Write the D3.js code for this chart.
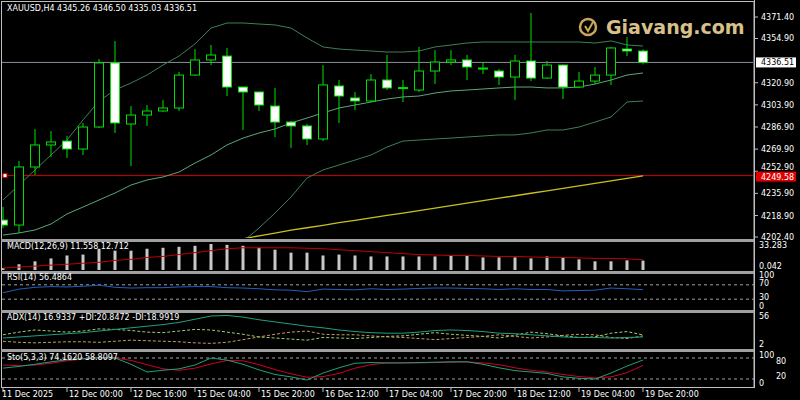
<!DOCTYPE html>
<html><head><meta charset="utf-8">
<script src="https://cdn.jsdelivr.net/npm/d3@7"></script>
<style>body{margin:0;background:#000}svg{display:block}text{font-family:"DejaVu Sans",sans-serif;font-size:8px;fill:#fff}</style>
</head><body><div id="chart"></div>
<script>
var width = 800, height = 400;

// candles: [open, high, low, close]
var ohlc = [
 [4215.4,4225.4,4209.3,4211.6],[4211.6,4260.8,4205.5,4256.2],[4256.2,4285.4,4250.0,4273.1],[4273.1,4283.8,4263.8,4275.4],
 [4276.1,4280.0,4263.1,4270.0],[4270.0,4290.0,4265.4,4286.9],[4286.9,4339.1,4286.1,4336.1],[4336.1,4353.0,4282.3,4290.0],
 [4289.2,4303.0,4256.9,4296.1],[4296.1,4303.8,4287.7,4299.2],[4299.2,4307.6,4298.5,4301.5],[4301.5,4329.2,4299.2,4326.8],
 [4326.8,4346.8,4326.1,4338.4],[4338.4,4349.9,4334.5,4342.2],[4341.4,4347.6,4310.7,4317.6],[4317.6,4317.9,4284.6,4313.8],
 [4313.8,4314.0,4299.2,4303.8],[4303.0,4316.9,4279.2,4290.7],[4290.7,4291.5,4270.8,4287.7],[4287.7,4289.2,4273.1,4277.7],
 [4277.7,4334.5,4276.1,4319.2],[4318.4,4323.0,4290.0,4310.7],[4309.2,4313.8,4300.0,4306.9],[4306.9,4327.6,4306.1,4323.0],
 [4323.0,4342.2,4315.3,4316.9],[4316.9,4323.0,4306.1,4317.2],[4315.3,4348.4,4313.8,4329.9],[4329.9,4346.0,4319.9,4336.8],
 [4336.8,4346.0,4334.5,4338.4],[4338.4,4342.2,4323.0,4333.0],[4332.2,4336.8,4327.6,4331.5],[4329.9,4331.5,4319.2,4325.3],
 [4325.3,4342.2,4307.6,4337.6],[4337.6,4374.5,4322.2,4324.5],[4324.5,4337.6,4323.8,4334.5],[4334.5,4335.0,4308.4,4317.6],
 [4317.6,4329.2,4316.9,4322.2],[4322.2,4333.0,4319.9,4326.8],[4326.8,4348.4,4319.2,4347.6],[4346.8,4356.0,4341.4,4345.3],
 [4345.26,4346.50,4335.03,4336.51]
];
var bbUpper = [4230.8,4242.3,4253.9,4265.4,4276.9,4292.3,4306.9,4315.3,4320.7,4326.8,4334.5,4341.4,4350.7,4362.9,4366.8,4366.8,4366.0,4365.3,4362.9,4355.3,4348.4,4346.8,4346.0,4345.3,4344.5,4344.5,4345.3,4348.4,4349.9,4351.4,4352.2,4352.2,4352.2,4352.2,4352.2,4352.2,4352.2,4351.4,4353.0,4349.9,4349.1];
var bbMiddle = [4203.9,4205.5,4207.8,4212.4,4220.1,4225.4,4230.8,4236.2,4242.3,4246.2,4248.5,4252.3,4259.2,4265.4,4273.1,4278.4,4282.3,4285.4,4290.0,4293.8,4297.7,4301.5,4303.8,4306.1,4308.4,4310.0,4310.7,4313.0,4314.6,4315.3,4316.1,4316.9,4317.6,4317.6,4316.9,4316.9,4317.6,4319.9,4323.0,4326.8,4328.4];
var bbLower = [null,null,null,null,null,null,null,null,null,null,null,null,null,null,null,4199.0,4209.3,4220.8,4233.1,4247.7,4253.9,4257.7,4261.5,4265.4,4271.5,4276.1,4276.9,4277.7,4278.4,4279.2,4280.0,4280.8,4280.8,4282.3,4284.6,4284.6,4286.9,4290.7,4294.6,4306.1,4306.9];
var maSlow = [null,null,null,null,null,null,null,null,null,null,null,null,null,null,null,4201.0,4203.3,4205.4,4207.6,4209.5,4211.4,4213.4,4215.2,4217.1,4219.0,4220.8,4222.7,4224.6,4226.5,4228.4,4230.3,4232.2,4234.1,4236.0,4237.9,4239.8,4241.7,4243.6,4245.5,4247.5,4249.3];
var macdHist = [2.4,7.1,10.7,14.3,17.9,19.0,26.2,23.8,23.8,26.2,27.4,28.6,29.8,32.1,31.0,29.8,27.4,25.0,21.4,21.4,17.9,19.0,17.9,16.7,16.7,16.7,16.7,16.7,17.9,17.9,15.5,15.5,15.5,14.3,16.7,15.5,13.1,10.7,10.7,11.9,11.558];
var macdSignal = [2.4,3.6,4.8,6.0,7.1,8.3,9.5,11.9,13.1,15.5,16.7,19.0,21.4,23.8,26.2,27.4,27.4,27.4,27.4,26.8,26.2,25.0,23.8,22.6,21.4,20.2,19.0,18.5,17.9,17.9,17.3,16.7,16.7,16.1,15.5,15.5,14.9,14.3,14.3,13.7,12.712];
var rsi = [48,58,63,65,64,66,69,63,61,62,62,64,65,65,62,61,59,56,55,51,58,57,56,59,57,58,60,61,61,60,59,57,59,57,57,53,54,55,61,59,56.49];
var adx = [15,17,19,21,23,25,28,31,34,37,40,44,50,56,57,54,49,45,41,37,34,30,27,25,24,24,26,29,30,29,27,24,23,21,19,17,16,16,15,16,16.93];
var diPlus = [21,26,30,28,26,28,32,31,29,26,25,28,31,30,26,22,17,15,13,11,16,15,14,16,18,19,22,25,22,20,18,15,20,26,23,19,16,17,24,27,20.85];
var diMinus = [9,7,6,7,8,8,7,9,11,10,9,8,6,5,7,12,17,22,26,28,22,21,21,19,17,16,14,12,14,16,18,21,18,15,17,20,22,21,16,14,18.99];
var stoK = [51,56,62,69,75,78,81,80,62,40,45,49,60,80,74,62,46,33,26,17,37,52,65,67,66,66,67,68,69,69,62,52,44,40,36,26,22,20,37,57,74.16];
var stoD = [60,58,60,65,72,77,80,80,73,61,49,45,51,63,73,72,61,47,35,25,27,36,51,61,66,66,66,67,68,69,66,61,52,45,40,33,27,23,26,38,58.81];
var priceTicks = [4371.40,4354.90,4320.90,4303.90,4286.90,4269.90,4252.90,4235.90,4218.90,4202.40];
var timeLabels = ["11 Dec 2025","12 Dec 00:00","12 Dec 16:00","15 Dec 04:00","15 Dec 20:00","16 Dec 12:00","17 Dec 04:00","17 Dec 20:00","18 Dec 12:00","19 Dec 04:00","19 Dec 20:00"];
var lastPrice = 4336.51, redLevel = 4249.58;

var axisX = 754;
var svg = d3.select('#chart').append('svg').attr('width', width).attr('height', height).style('background', '#000');

var x = d3.scaleLinear().domain([0, 40]).range([3, 643]);
var y = d3.scaleLinear().domain([4202.4, 4371.4]).range([237, 17]);

// frame + panel separators
svg.append('rect').attr('x', 1.5).attr('y', 1.5).attr('width', axisX - 1.5).attr('height', 386).attr('fill', 'none').attr('stroke', '#c0c0c0');
[240, 272, 311, 350].forEach(function (s) {
  svg.append('rect').attr('x', 1).attr('y', s - 1).attr('width', axisX - 1).attr('height', 3).attr('fill', '#a0a0a0');
});

var main = svg.append('g');
main.append('clipPath').attr('id', 'mclip').append('rect').attr('x', 2).attr('y', 2).attr('width', axisX - 3).attr('height', 236);
var mg = main.append('g').attr('clip-path', 'url(#mclip)');

// logo
var logo = svg.append('g').attr('transform', 'translate(588,27)');
logo.append('circle').attr('r', 8).attr('fill', 'none').attr('stroke', '#c9a55a').attr('stroke-width', 2.5);
logo.append('path').attr('d', 'M-3,-1 L0,4 L5,-5').attr('fill', 'none').attr('stroke', '#c9a55a').attr('stroke-width', 2);
svg.append('text').attr('x', 606).attr('y', 34).style('font-size', '19px').style('font-weight', 'bold').style('fill', '#d8c08a').text('Giavang.com');

// horizontal levels
mg.append('line').attr('x1', 2).attr('x2', axisX).attr('y1', y(lastPrice)).attr('y2', y(lastPrice)).attr('stroke', '#8a8f9a');
mg.append('line').attr('x1', 2).attr('x2', axisX).attr('y1', y(redLevel)).attr('y2', y(redLevel)).attr('stroke', '#d00000');

function lineOf(sc) {
  return d3.line().defined(function (d) { return d != null; }).x(function (d, i) { return x(i); }).y(function (d) { return sc(d); });
}
mg.append('path').datum(bbUpper).attr('d', lineOf(y)).attr('fill', 'none').attr('stroke', '#3f7f58');
mg.append('path').datum(bbMiddle).attr('d', lineOf(y)).attr('fill', 'none').attr('stroke', '#5aa878');
mg.append('path').datum(bbLower).attr('d', lineOf(y)).attr('fill', 'none').attr('stroke', '#3f7f58');
mg.append('path').datum(maSlow).attr('d', lineOf(y)).attr('fill', 'none').attr('stroke', '#c8c020').attr('stroke-width', 1.3);

// candles
var c = mg.selectAll('g.c').data(ohlc).enter().append('g');
c.append('line').attr('x1', function (d, i) { return x(i); }).attr('x2', function (d, i) { return x(i); })
  .attr('y1', function (d) { return y(d[1]); }).attr('y2', function (d) { return y(d[2]); }).attr('stroke', '#00e000');
c.append('rect').attr('x', function (d, i) { return x(i) - 4.5; }).attr('width', 9)
  .attr('y', function (d) { return y(Math.max(d[0], d[3])); })
  .attr('height', function (d) { return Math.max(1, Math.abs(y(d[0]) - y(d[3]))); })
  .attr('fill', function (d) { return d[3] >= d[0] ? '#000' : '#fff'; }).attr('stroke', '#00e000');

// price axis
svg.append('line').attr('x1', axisX + .5).attr('x2', axisX + .5).attr('y1', 0).attr('y2', 388).attr('stroke', '#c0c0c0');
priceTicks.forEach(function (p) {
  var ty = y(p) + 3;
  if (Math.abs(p - redLevel) < 5) ty = y(redLevel) - 6; // keep clear of the red price box
  svg.append('line').attr('x1', axisX).attr('x2', axisX + 4).attr('y1', y(p)).attr('y2', y(p)).attr('stroke', '#c0c0c0');
  svg.append('text').attr('x', 761).attr('y', ty).text(p.toFixed(2));
});
svg.append('rect').attr('x', 756).attr('y', y(lastPrice) - 5).attr('width', 40).attr('height', 10).attr('fill', '#fff');
svg.append('text').attr('x', 761).attr('y', y(lastPrice) + 3).style('fill', '#000').text(lastPrice.toFixed(2));
svg.append('rect').attr('x', 756).attr('y', y(redLevel) - 4).attr('width', 40).attr('height', 10).attr('fill', '#e00000');
svg.append('text').attr('x', 761).attr('y', y(redLevel) + 4).style('fill', '#fff').text(redLevel.toFixed(2));
svg.append('rect').attr('x', 3).attr('y', y(redLevel) - 2).attr('width', 4).attr('height', 4).attr('fill', '#fff').attr('stroke', '#d00000');
svg.append('text').attr('x', 7).attr('y', 11).text('XAUUSD,H4  4345.26 4346.50 4335.03 4336.51');

// MACD
var ym = d3.scaleLinear().domain([0, 33.283]).range([270, 243]);
svg.selectAll('rect.h').data(macdHist).enter().append('rect')
  .attr('x', function (d, i) { return x(i) - 1.5; }).attr('width', 3)
  .attr('y', function (d) { return ym(d); }).attr('height', function (d) { return ym(0) - ym(d); }).attr('fill', '#c8c8c8');
svg.append('path').datum(macdSignal).attr('d', lineOf(ym)).attr('fill', 'none').attr('stroke', '#c00000');
svg.append('text').attr('x', 7).attr('y', 249).text('MACD(12,26,9) 11.558 12.712');
svg.append('text').attr('x', 759).attr('y', 248).text('33.283');
svg.append('text').attr('x', 759).attr('y', 269).text('0.042');

function dashed(v, sc) {
  svg.append('line').attr('x1', 2).attr('x2', axisX).attr('y1', sc(v)).attr('y2', sc(v)).attr('stroke', '#a0a0a0').attr('stroke-dasharray', '3,3');
}
// RSI
var yr = d3.scaleLinear().domain([0, 100]).range([310, 274]);
dashed(70, yr); dashed(30, yr);
svg.append('path').datum(rsi).attr('d', lineOf(yr)).attr('fill', 'none').attr('stroke', '#2060c0');
svg.append('text').attr('x', 7).attr('y', 280).text('RSI(14) 56.4864');
[[100, 278], [70, 286], [30, 300], [0, 309]].forEach(function (t) { svg.append('text').attr('x', 759).attr('y', t[1]).text(t[0]); });

// ADX
var ya = d3.scaleLinear().domain([2, 56]).range([345, 316]);
svg.append('path').datum(diPlus).attr('d', lineOf(ya)).attr('fill', 'none').attr('stroke', '#a0d070').attr('stroke-dasharray', '3,2');
svg.append('path').datum(diMinus).attr('d', lineOf(ya)).attr('fill', 'none').attr('stroke', '#c0a060').attr('stroke-dasharray', '3,2');
svg.append('path').datum(adx).attr('d', lineOf(ya)).attr('fill', 'none').attr('stroke', '#20a080');
svg.append('text').attr('x', 7).attr('y', 320).text('ADX(14) 16.9337 +DI:20.8472 -DI:18.9919');
svg.append('text').attr('x', 759).attr('y', 319).text('56');
svg.append('text').attr('x', 759).attr('y', 347).text('2');

// Stochastic
var ys = d3.scaleLinear().domain([0, 100]).range([386, 351]);
dashed(80, ys); dashed(20, ys);
svg.append('path').datum(stoD).attr('d', lineOf(ys)).attr('fill', 'none').attr('stroke', '#d00020');
svg.append('path').datum(stoK).attr('d', lineOf(ys)).attr('fill', 'none').attr('stroke', '#20a080');
svg.append('text').attr('x', 7).attr('y', 360).text('Sto(5,3,3) 74.1620 58.8097');
svg.append('text').attr('x', 759).attr('y', 358).text('100');
svg.append('text').attr('x', 776).attr('y', 364).text('80');
svg.append('text').attr('x', 776).attr('y', 379).text('20');
svg.append('text').attr('x', 759).attr('y', 386).text('0');

// time axis
timeLabels.forEach(function (t, k) {
  var xi = x(k * 4);
  svg.append('line').attr('x1', xi).attr('x2', xi).attr('y1', 387).attr('y2', 392).attr('stroke', '#c0c0c0');
  svg.append('text').attr('x', k === 0 ? 2 : xi + 2).attr('y', 397).text(t);
});
</script></body></html>
